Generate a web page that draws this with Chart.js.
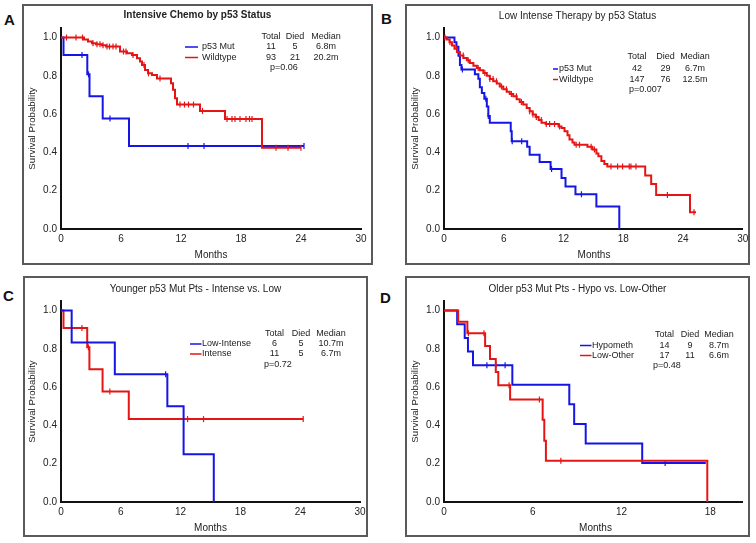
<!DOCTYPE html>
<html>
<head>
<meta charset="utf-8">
<script src="https://cdn.jsdelivr.net/npm/chart.js@4"></script>
<style>
  body { margin: 0; background: #fff; width: 756px; height: 543px; overflow: hidden; position: relative; }
  .panel { position: absolute; border: 2px solid #5a5a5a; box-sizing: border-box; }
  .panel canvas { position: absolute; left: 0; top: 0; }
  .letter { position: absolute; font: bold 15px/15px "Liberation Sans", Arial, sans-serif; color: #111; }
</style>
</head>
<body>
<script>
const FONT = '"Liberation Sans", Arial, sans-serif';
const BLUE = '#1515e6';
const RED = '#e61515';

// tick labels
const monthTicks = [0, 6, 12, 18, 24, 30];
const monthTicksD = [0, 6, 12, 18];
const probTicks = [0, 0.2, 0.4, 0.6, 0.8, 1.0];
const legendHead = ['Total', 'Died', 'Median'];

// A: Intensive chemo by p53 status
const aMutTimes = [0.25, 2.63, 2.85, 4.17, 6.8];
const aMutSurv = [0.909, 0.808, 0.693, 0.577, 0.433];
const aMutCens = [2.1, 2.75, 4.9, 12.7, 14.3, 24.3];
const aMutEnd = 24.3;
const aWildTimes = [2.3, 2.7, 3.1, 3.5, 4.1, 4.5, 5.9, 6.6, 7.1, 7.6, 7.9, 8.1, 8.4, 8.7, 9.1, 9.6, 11.0, 11.2, 11.4, 11.6, 13.9, 16.4, 20.1];
const aWildSurv = [0.99, 0.98, 0.97, 0.965, 0.96, 0.953, 0.927, 0.918, 0.909, 0.892, 0.875, 0.857, 0.831, 0.813, 0.805, 0.786, 0.762, 0.727, 0.683, 0.65, 0.617, 0.575, 0.424];
const aWildCens = [0.55, 1.5, 2.15, 3.2, 3.6, 3.9, 4.2, 4.6, 4.85, 5.2, 5.5, 6.25, 6.5, 7.2, 8.3, 8.75, 9.9, 11.9, 12.35, 12.75, 13.25, 14.15, 16.6, 17.1, 17.4, 17.9, 18.5, 18.85, 19.1, 21.5, 22.7, 24.0];
const aWildEnd = 24.0;
const aLegend = [['p53 Mut', '11', '5', '6.8m'], ['Wildtype', '93', '21', '20.2m']];
const aP = 'p=0.06';

// B: Low intense therapy by p53 status
const bMutTimes = [1.05, 1.25, 1.45, 1.6, 1.75, 3.1, 3.45, 3.6, 3.8, 4.05, 4.3, 4.45, 4.6, 6.7, 6.8, 8.35, 8.6, 9.6, 10.7, 11.8, 12.2, 13.2, 15.3, 17.6];
const bMutSurv = [0.976, 0.952, 0.905, 0.857, 0.833, 0.809, 0.785, 0.74, 0.71, 0.68, 0.64, 0.59, 0.555, 0.51, 0.458, 0.43, 0.388, 0.35, 0.313, 0.266, 0.222, 0.182, 0.117, 0];
const bMutCens = [1.85, 4.2, 4.45, 6.85, 7.8, 10.8, 13.8];
const bMutEnd = 17.6;
const bWildTimes = [0.3, 0.55, 0.8, 1.05, 1.3, 1.6, 1.95, 2.3, 2.6, 2.95, 3.3, 3.6, 3.95, 4.3, 4.6, 4.95, 5.3, 5.6, 5.95, 6.3, 6.6, 6.95, 7.3, 7.6, 7.95, 8.3, 8.6, 8.9, 9.2, 9.5, 9.8, 10.2, 11.5, 11.8, 12.1, 12.4, 12.6, 12.9, 13.1, 14.4, 14.9, 15.3, 15.5, 15.8, 16.1, 16.4, 20.2, 20.8, 21.3, 24.7];
const bWildSurv = [0.99, 0.976, 0.958, 0.941, 0.925, 0.906, 0.893, 0.881, 0.867, 0.853, 0.841, 0.829, 0.815, 0.801, 0.784, 0.772, 0.76, 0.745, 0.73, 0.717, 0.705, 0.693, 0.678, 0.664, 0.65, 0.632, 0.615, 0.598, 0.585, 0.57, 0.555, 0.548, 0.535, 0.528, 0.51, 0.49, 0.467, 0.452, 0.44, 0.43, 0.415, 0.395, 0.38, 0.355, 0.34, 0.327, 0.28, 0.235, 0.178, 0.087];
const bWildCens = [0.1, 0.6, 1.27, 1.93, 2.43, 3.43, 4.1, 4.6, 4.93, 5.27, 5.77, 6.27, 6.77, 7.27, 7.77, 8.6, 8.93, 9.27, 9.77, 10.27, 10.6, 11.1, 11.6, 13.27, 13.6, 14.77, 15.1, 16.77, 17.43, 17.93, 18.6, 18.77, 19.27, 22.43, 25.1];
const bWildEnd = 25.3;
const bLegend = [['p53 Mut', '42', '29', '6.7m'], ['Wildtype', '147', '76', '12.5m']];
const bP = 'p=0.007';

// C: Younger p53 mut pts - intense vs low
const cLowTimes = [1.07, 5.4, 10.67, 12.3, 15.33];
const cLowSurv = [0.833, 0.667, 0.5, 0.25, 0];
const cLowCens = [10.5];
const cLowEnd = 15.33;
const cIntTimes = [0.25, 2.63, 2.85, 4.17, 6.8];
const cIntSurv = [0.909, 0.808, 0.693, 0.577, 0.433];
const cIntCens = [2.1, 2.75, 4.9, 12.7, 14.3, 24.3];
const cIntEnd = 24.3;
const cLegend = [['Low-Intense', '6', '5', '10.7m'], ['Intense', '11', '5', '6.7m']];
const cP = 'p=0.72';

// D: Older p53 mut pts - hypo vs low-other
const dHypoTimes = [0.89, 1.4, 1.62, 1.96, 4.62, 8.47, 8.8, 9.58, 13.4];
const dHypoSurv = [0.929, 0.857, 0.786, 0.714, 0.612, 0.51, 0.408, 0.306, 0.204];
const dHypoCens = [2.9, 3.5, 4.13, 14.95];
const dHypoEnd = 17.7;
const dOtherTimes = [0.96, 1.58, 2.78, 3.11, 3.5, 3.67, 4.47, 6.67, 6.78, 6.89, 17.8];
const dOtherSurv = [0.941, 0.882, 0.815, 0.747, 0.679, 0.61, 0.536, 0.43, 0.32, 0.215, 0];
const dOtherCens = [1.65, 2.7, 4.4, 6.45, 7.9];
const dOtherEnd = 17.8;
const dLegend = [['Hypometh', '14', '9', '8.7m'], ['Low-Other', '17', '11', '6.6m']];
const dP = 'p=0.48';

function kmPoints(times, surv, end) {
    const pts = [{ x: 0, y: 1 }];
    times.forEach((t, i) => pts.push({ x: t, y: surv[i] }));
    if (end > times[times.length - 1]) pts.push({ x: end, y: surv[surv.length - 1] });
    return pts;
}

function survAt(times, surv, t) {
    let s = 1;
    times.forEach((tt, i) => { if (tt <= t) s = surv[i]; });
    return s;
}

// page layout of the four panels (box = border, plot = axis area)
const panels = [
    {
        letter: 'A', letterPos: [4, 12], box: [22, 4, 351, 261], plot: [61, 28, 361, 229],
        xMax: 30, xTicks: monthTicks, title: 'Intensive Chemo by p53 Status', bold: true, titleY: 15.5,
        series: [
            { times: aWildTimes, surv: aWildSurv, end: aWildEnd, cens: aWildCens, color: RED },
            { times: aMutTimes, surv: aMutSurv, end: aMutEnd, cens: aMutCens, color: BLUE }
        ],
        legend: { rows: aLegend, colors: [BLUE, RED], p: aP, sample: [185, 198], labelX: 202,
                  headY: 37, rowY: [47, 57.5], cols: [271, 295, 326], pX: 270, pY: 68 }
    },
    {
        letter: 'B', letterPos: [381, 11], box: [405, 4, 345, 261], plot: [444, 28, 744, 229],
        xMax: 30, xTicks: monthTicks, title: 'Low Intense Therapy by p53 Status', bold: false, titleY: 15.8,
        series: [
            { times: bWildTimes, surv: bWildSurv, end: bWildEnd, cens: bWildCens, color: RED },
            { times: bMutTimes, surv: bMutSurv, end: bMutEnd, cens: bMutCens, color: BLUE }
        ],
        legend: { rows: bLegend, colors: [BLUE, RED], p: bP, sample: [553, 558], labelX: 559,
                  headY: 57, rowY: [69, 79.5], cols: [637, 665.5, 695], pX: 629, pY: 90 }
    },
    {
        letter: 'C', letterPos: [3, 288], box: [23, 276, 345, 261], plot: [61, 301, 360, 502],
        xMax: 30, xTicks: monthTicks, title: 'Younger p53 Mut Pts - Intense vs. Low', bold: false, titleY: 288.8,
        series: [
            { times: cLowTimes, surv: cLowSurv, end: cLowEnd, cens: cLowCens, color: BLUE },
            { times: cIntTimes, surv: cIntSurv, end: cIntEnd, cens: cIntCens, color: RED }
        ],
        legend: { rows: cLegend, colors: [BLUE, RED], p: cP, sample: [190, 201.5], labelX: 202,
                  headY: 334, rowY: [344, 354], cols: [274.5, 301, 331], pX: 264, pY: 364.5 }
    },
    {
        letter: 'D', letterPos: [380, 289.5], box: [405, 276, 345, 261], plot: [444, 301, 747, 502],
        xMax: 20.2, xTicks: monthTicksD, title: 'Older p53 Mut Pts - Hypo vs. Low-Other', bold: false, titleY: 288.8,
        series: [
            { times: dOtherTimes, surv: dOtherSurv, end: dOtherEnd, cens: dOtherCens, color: RED },
            { times: dHypoTimes, surv: dHypoSurv, end: dHypoEnd, cens: dHypoCens, color: BLUE }
        ],
        legend: { rows: dLegend, colors: [BLUE, RED], p: dP, sample: [580, 591.5], labelX: 592,
                  headY: 335, rowY: [345.5, 355.5], cols: [664.5, 690, 719], pX: 653, pY: 366 }
    }
];

function textPlugin(p, ox, oy) {
    return {
        id: 'panelText',
        afterDraw(chart) {
            const ctx = chart.ctx;
            const [pl, pt, pr, pb] = p.plot;
            const [bx, by, bw] = p.box;
            ctx.save();
            ctx.fillStyle = '#222';
            ctx.textBaseline = 'middle';

            // title
            ctx.font = (p.bold ? 'bold ' : '') + '10px ' + FONT;
            ctx.textAlign = 'center';
            ctx.fillText(p.title, bx + bw / 2 - ox, p.titleY - oy);

            // axis titles
            ctx.font = '10px ' + FONT;
            ctx.fillText('Months', (pl + pr) / 2 - ox, pb + 26 - oy);
            ctx.save();
            ctx.translate(pl - 29 - ox, (pt + pb) / 2 - oy);
            ctx.rotate(-Math.PI / 2);
            ctx.font = '9.7px ' + FONT;
            ctx.fillText('Survival Probability', 0, 0);
            ctx.restore();

            // legend table
            const lg = p.legend;
            ctx.font = '9px ' + FONT;
            ctx.textAlign = 'center';
            legendHead.forEach((h, i) => ctx.fillText(h, lg.cols[i] - ox, lg.headY - oy));
            lg.rows.forEach((row, r) => {
                const y = lg.rowY[r] - oy;
                ctx.strokeStyle = lg.colors[r];
                ctx.lineWidth = 1.5;
                ctx.beginPath();
                ctx.moveTo(lg.sample[0] - ox, y);
                ctx.lineTo(lg.sample[1] - ox, y);
                ctx.stroke();
                ctx.textAlign = 'left';
                ctx.fillText(row[0], lg.labelX - ox, y);
                ctx.textAlign = 'center';
                for (let i = 1; i < 4; i++) ctx.fillText(row[i], lg.cols[i - 1] - ox, y);
            });
            ctx.textAlign = 'left';
            ctx.fillText(lg.p, lg.pX - ox, lg.pY - oy);
            ctx.restore();
        }
    };
}

panels.forEach(p => {
    const [bx, by, bw, bh] = p.box;
    const [pl, pt, pr, pb] = p.plot;

    const letter = document.createElement('div');
    letter.className = 'letter';
    letter.style.left = p.letterPos[0] + 'px';
    letter.style.top = p.letterPos[1] + 'px';
    letter.textContent = p.letter;
    document.body.appendChild(letter);

    const div = document.createElement('div');
    div.className = 'panel';
    div.style.left = bx + 'px';
    div.style.top = by + 'px';
    div.style.width = bw + 'px';
    div.style.height = bh + 'px';
    const cw = bw - 4, ch = bh - 4;
    const ox = bx + 2, oy = by + 2;
    const canvas = document.createElement('canvas');
    canvas.width = cw;
    canvas.height = ch;
    canvas.style.width = cw + 'px';
    canvas.style.height = ch + 'px';
    div.appendChild(canvas);
    document.body.appendChild(div);

    const yWidth = pl - ox;
    const xHeight = oy + ch - pb;

    const datasets = [];
    p.series.forEach(s => {
        datasets.push({
            data: s.cens.map(t => ({ x: t, y: survAt(s.times, s.surv, t) })),
            showLine: false,
            pointStyle: 'line',
            rotation: 90,
            pointRadius: 3,
            pointBorderWidth: 1.2,
            pointBorderColor: s.color,
            borderColor: s.color
        });
        datasets.push({
            data: kmPoints(s.times, s.surv, s.end),
            stepped: 'before',
            borderColor: s.color,
            borderWidth: 2,
            pointRadius: 0,
            fill: false
        });
    });

    new Chart(canvas.getContext('2d'), {
        type: 'line',
        data: { datasets: datasets },
        options: {
            responsive: false,
            animation: false,
            layout: { padding: { top: pt - oy, right: ox + cw - pr, left: 0, bottom: 0 } },
            plugins: { legend: { display: false }, tooltip: { enabled: false } },
            scales: {
                x: {
                    type: 'linear',
                    min: 0,
                    max: p.xMax,
                    grid: { display: false, drawTicks: false },
                    border: { display: true, color: '#111', width: 2 },
                    afterBuildTicks: scale => { scale.ticks = p.xTicks.map(v => ({ value: v })); },
                    afterFit: scale => { scale.height = xHeight; scale.paddingLeft = 0; scale.paddingRight = 0; },
                    ticks: { color: '#222', padding: 4, maxRotation: 0, font: { family: FONT, size: 10 } }
                },
                y: {
                    min: 0,
                    max: 1.05,
                    grid: { display: false, drawTicks: false },
                    border: { display: true, color: '#111', width: 2 },
                    afterBuildTicks: scale => { scale.ticks = probTicks.map(v => ({ value: v })); },
                    afterFit: scale => { scale.width = yWidth; scale.paddingTop = 0; scale.paddingBottom = 0; },
                    ticks: { color: '#222', padding: 4, callback: v => v.toFixed(1), font: { family: FONT, size: 10 } }
                }
            }
        },
        plugins: [textPlugin(p, ox, oy)]
    });
});
</script>
</body>
</html>
